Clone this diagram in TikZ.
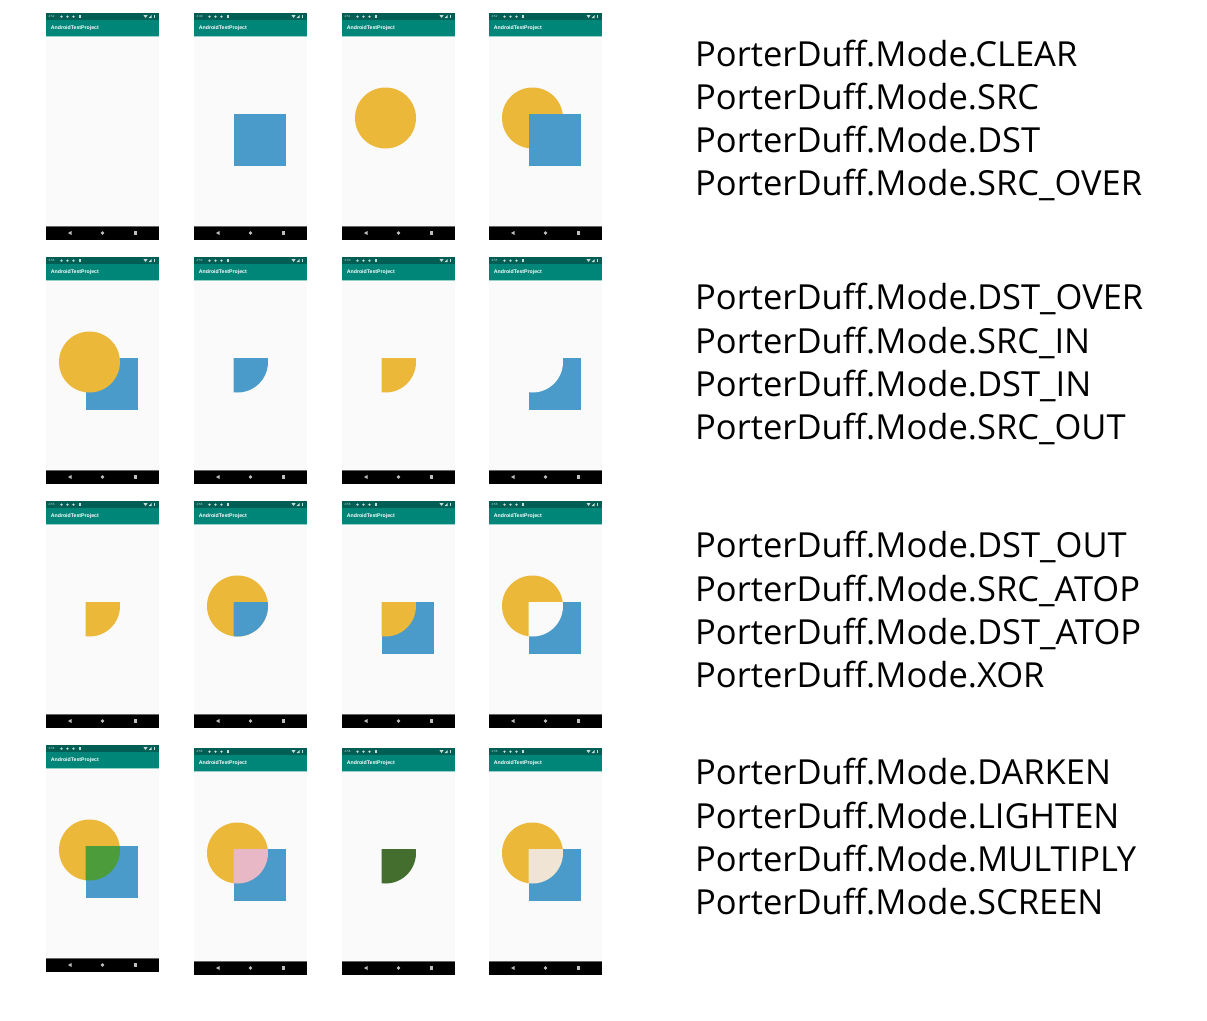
\documentclass[tikz,border=0pt]{standalone}
\usepackage{fontspec}
\setmainfont{Open Sans}
\newfontfamily\uifont{Liberation Sans}
\definecolor{screenbg}{RGB}{250,250,250}
\definecolor{statusbar}{RGB}{0,94,84}
\definecolor{appbar}{RGB}{0,134,120}
\definecolor{iconcol}{RGB}{200,220,216}
\definecolor{navicon}{RGB}{190,190,190}
\definecolor{yl}{RGB}{235,184,58}
\definecolor{bl}{RGB}{74,155,201}
\definecolor{dkgreen}{RGB}{77,156,60}
\definecolor{ltpink}{RGB}{232,184,199}
\definecolor{mulgreen}{RGB}{67,110,46}
\definecolor{scrcream}{RGB}{240,228,213}
\tikzset{
  modetext/.style={anchor=base west, inner sep=0pt, font=\fontsize{34.5}{40}\selectfont, text=black},
  apptitle/.style={anchor=west, inner sep=0pt, font=\uifont\bfseries\fontsize{5.2}{6}\selectfont, text=white},
  timetext/.style={anchor=west, inner sep=0pt, font=\uifont\fontsize{3}{3}\selectfont, text=iconcol},
}
\newcommand\phoneframe[3]{%
  \begin{scope}[shift={(#1,#2)}]
    \fill[screenbg] (0,0) rectangle (113,227);
    \fill[statusbar] (0,0) rectangle (113,7);
    \fill[appbar] (0,7) rectangle (113,23);
    \fill[appbar!40!white] (0,22.6) rectangle (113,23.2);
    \fill[black] (0,213) rectangle (113,227);
    \fill[black!60] (0,212.6) rectangle (113,213.2);
    \node[timetext] at (2.5,3.6) {#3};
    \fill[iconcol] (15.5,3.6) circle[radius=1.3];
    \fill[iconcol] (21.5,3.6) circle[radius=1.3];
    \fill[iconcol] (27.5,3.6) circle[radius=1.3];
    \fill[iconcol] (32.6,2.2) rectangle (35,5);
    \fill[iconcol] (97.5,2.2) -- (101.5,2.2) -- (99.5,5) -- cycle;
    \fill[iconcol] (102.5,5) -- (105.5,5) -- (105.5,2.2) -- cycle;
    \fill[iconcol] (107.5,2) rectangle (109.2,5.2);
    \node[apptitle] at (4.7,15.3) {AndroidTestProject};
    \fill[navicon] (22,220) -- (25.5,218) -- (25.5,222) -- cycle;
    \fill[navicon] (56.5,220) circle[radius=1.8];
    \fill[navicon] (87.5,218.2) rectangle (91,221.8);
  \end{scope}}
\newcommand\sq[2]{(#1+39.5,#2+101) rectangle (#1+91.5,#2+153)}
\newcommand\cir[2]{(#1+43.5,#2+105) circle[radius=30.5]}
\begin{document}
\begin{tikzpicture}[x=1pt,y=-1pt]
  \fill[white] (0,0) rectangle (1207,1020);
  \useasboundingbox (0,0) rectangle (1207,1020);
  % row 1
  \phoneframe{46}{13}{4:52}
  \phoneframe{194}{13}{4:49}
  \phoneframe{342}{13}{4:51}
  \phoneframe{489}{13}{4:52}
  \fill[bl] \sq{194}{13};
  \fill[yl] \cir{342}{13};
  \fill[yl] \cir{489}{13};
  \fill[bl] \sq{489}{13};
  % row 2
  \phoneframe{46}{257}{4:55}
  \phoneframe{194}{257}{4:53}
  \phoneframe{342}{257}{4:53}
  \phoneframe{489}{257}{4:55}
  \fill[bl] \sq{46}{257};
  \fill[yl] \cir{46}{257};
  \begin{scope}\clip \sq{194}{257}; \fill[bl] \cir{194}{257};\end{scope}
  \begin{scope}\clip \sq{342}{257}; \fill[yl] \cir{342}{257};\end{scope}
  \fill[bl] \sq{489}{257};
  \begin{scope}\clip \sq{489}{257}; \fill[screenbg] \cir{489}{257};\end{scope}
  % row 3
  \phoneframe{46}{501}{4:55}
  \phoneframe{194}{501}{4:56}
  \phoneframe{342}{501}{4:56}
  \phoneframe{489}{501}{4:56}
  \begin{scope}\clip \sq{46}{501}; \fill[yl] \cir{46}{501};\end{scope}
  \fill[yl] \cir{194}{501};
  \begin{scope}\clip \sq{194}{501}; \fill[bl] \cir{194}{501};\end{scope}
  \fill[bl] \sq{342}{501};
  \begin{scope}\clip \sq{342}{501}; \fill[yl] \cir{342}{501};\end{scope}
  \fill[yl] \cir{489}{501};
  \fill[bl] \sq{489}{501};
  \begin{scope}\clip \sq{489}{501}; \fill[screenbg] \cir{489}{501};\end{scope}
  % row 4
  \phoneframe{46}{745}{4:56}
  \phoneframe{194}{748}{4:56}
  \phoneframe{342}{748}{4:56}
  \phoneframe{489}{748}{4:56}
  \fill[yl] \cir{46}{745};
  \fill[bl] \sq{46}{745};
  \begin{scope}\clip \sq{46}{745}; \fill[dkgreen] \cir{46}{745};\end{scope}
  \fill[yl] \cir{194}{748};
  \fill[bl] \sq{194}{748};
  \begin{scope}\clip \sq{194}{748}; \fill[ltpink] \cir{194}{748};\end{scope}
  \begin{scope}\clip \sq{342}{748}; \fill[mulgreen] \cir{342}{748};\end{scope}
  \fill[yl] \cir{489}{748};
  \fill[bl] \sq{489}{748};
  \begin{scope}\clip \sq{489}{748}; \fill[scrcream] \cir{489}{748};\end{scope}
  % labels
  \node[modetext] (t1) at (695,66) {PorterDuff.Mode.CLEAR};
  \node[modetext] (t2) at (695,109) {PorterDuff.Mode.SRC};
  \node[modetext] (t3) at (695,152) {PorterDuff.Mode.DST};
  \node[modetext] (t4) at (695,195) {PorterDuff.Mode.SRC\_OVER};
  \node[modetext] (t5) at (695,309) {PorterDuff.Mode.DST\_OVER};
  \node[modetext] (t6) at (695,353) {PorterDuff.Mode.SRC\_IN};
  \node[modetext] (t7) at (695,396) {PorterDuff.Mode.DST\_IN};
  \node[modetext] (t8) at (695,439) {PorterDuff.Mode.SRC\_OUT};
  \node[modetext] (t9) at (695,557) {PorterDuff.Mode.DST\_OUT};
  \node[modetext] (t10) at (695,601) {PorterDuff.Mode.SRC\_ATOP};
  \node[modetext] (t11) at (695,644) {PorterDuff.Mode.DST\_ATOP};
  \node[modetext] (t12) at (695,687) {PorterDuff.Mode.XOR};
  \node[modetext] (t13) at (695,784) {PorterDuff.Mode.DARKEN};
  \node[modetext] (t14) at (695,828) {PorterDuff.Mode.LIGHTEN};
  \node[modetext] (t15) at (695,871) {PorterDuff.Mode.MULTIPLY};
  \node[modetext] (t16) at (695,914) {PorterDuff.Mode.SCREEN};
\end{tikzpicture}
\end{document}
